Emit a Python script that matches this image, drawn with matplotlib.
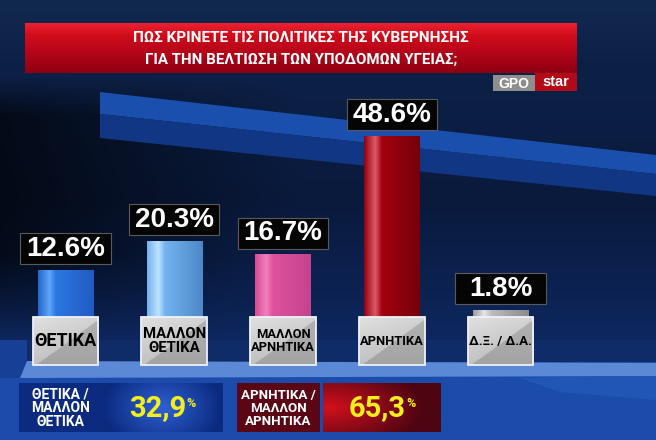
import numpy as np
import matplotlib
matplotlib.use('Agg')
import matplotlib.pyplot as plt
from matplotlib import font_manager
from matplotlib.colors import LinearSegmentedColormap, to_rgb
from matplotlib.patches import Rectangle, Polygon

# datos del gráfico
categorias = ['ΘΕΤΙΚΑ', 'ΜΑΛΛΟΝ\nΘΕΤΙΚΑ', 'ΜΑΛΛΟΝ\nΑΡΝΗΤΙΚΑ', 'ΑΡΝΗΤΙΚΑ', 'Δ.Ξ. / Δ.Α.']
valores = [12.6, 20.3, 16.7, 48.6, 1.8]
titulo = ['ΠΩΣ ΚΡΙΝΕΤΕ ΤΙΣ ΠΟΛΙΤΙΚΕΣ ΤΗΣ ΚΥΒΕΡΝΗΣΗΣ',
          'ΓΙΑ ΤΗΝ ΒΕΛΤΙΩΣΗ ΤΩΝ ΥΠΟΔΟΜΩΝ ΥΓΕΙΑΣ;']
resumen_etiquetas = ['ΘΕΤΙΚΑ /\nΜΑΛΛΟΝ\nΘΕΤΙΚΑ', 'ΑΡΝΗΤΙΚΑ /\nΜΑΛΛΟΝ\nΑΡΝΗΤΙΚΑ']
resumen_valores = [32.9, 65.3]

# colores de cada barra: borde izq, brillo, centro, borde der
colores_barras = [
    ['#2466cc', '#5ea6fa', '#2c78e2', '#1f5cc2'],
    ['#72b2ec', '#bfe2ff', '#74b4ee', '#4c88c9'],
    ['#d84a96', '#f27fbe', '#de529d', '#c4438c'],
    ['#920010', '#dc5a6a', '#a3000f', '#74000a'],
    ['#9a9a9a', '#e6e6e6', '#bdbdbd', '#8a8a8a'],
]

nombres = {f.name for f in font_manager.fontManager.ttflist}
if 'Liberation Sans Narrow' in nombres:
    ESTRECHA = 'Liberation Sans Narrow'
elif 'Roboto' in nombres:
    ESTRECHA = 'Roboto'
else:
    ESTRECHA = 'DejaVu Sans'
NORMAL = 'Liberation Sans' if 'Liberation Sans' in nombres else 'DejaVu Sans'

W_PX, H_PX = 656, 440
fig = plt.figure(figsize=(W_PX / 100, H_PX / 100), dpi=100)
fig.patch.set_facecolor('#0a1a3c')


def ajustar(t, ancho):
    r = fig.canvas.get_renderer()
    w = t.get_window_extent(r).width
    if w > ancho:
        t.set_fontsize(t.get_fontsize() * ancho / w)


# ---- fondo (coordenadas en píxeles) ----
bg = fig.add_axes([0, 0, 1, 1])
bg.set_xlim(0, W_PX)
bg.set_ylim(H_PX, 0)
bg.axis('off')

yy, xx = np.mgrid[0:H_PX, 0:W_PX]
paradas_y = [0, 60, 200, 300, 362]
paradas_c = [to_rgb(c) for c in ['#12294f', '#0d2148', '#0a1a3d', '#0c2354', '#0f2b68']]
img = np.zeros((H_PX, W_PX, 3))
for k in range(3):
    img[..., k] = np.interp(yy, paradas_y, [c[k] for c in paradas_c])
oscuro = np.clip(1 - xx / 300, 0, 1) * np.clip((yy - 75) / 40, 0, 1) * np.clip((345 - yy) / 90, 0, 1)
img *= (1 - 0.65 * oscuro)[..., None]
bg.imshow(img, extent=(0, W_PX, H_PX, 0), aspect='auto', zorder=0)

# franja azul diagonal
bg.add_patch(Polygon([(100, 92), (656, 155), (656, 174), (100, 114)], closed=True,
                     facecolor='#1b4fae', edgecolor='none', zorder=1))
bg.add_patch(Polygon([(100, 114), (656, 174), (656, 196), (100, 138)], closed=True,
                     facecolor='#113784', edgecolor='none', zorder=1))

# suelo
bg.add_patch(Rectangle((0, 340), W_PX, 100, facecolor='#1b4cab', edgecolor='none', zorder=1))
bg.add_patch(Polygon([(27, 340), (656, 340), (656, 362), (27, 362)], closed=True,
                     facecolor='#0f2b68', edgecolor='none', zorder=1))
bg.add_patch(Polygon([(0, 340), (27, 340), (27, 378), (0, 378)], closed=True,
                     facecolor='#173f95', edgecolor='none', zorder=1))
bg.add_patch(Polygon([(27, 361), (656, 363), (656, 376), (20, 378)], closed=True,
                     facecolor='#5b89d5', edgecolor='none', zorder=1))
bg.add_patch(Polygon([(520, 378), (656, 376), (656, 400), (560, 392)], closed=True,
                     facecolor='#2a61c2', edgecolor='none', alpha=0.5, zorder=1))

# banner del título
franja = np.array([to_rgb(c) for c in ['#ec2030', '#d00c1a', '#b8061a', '#8e0012']])
grad_t = np.zeros((50, 1, 3))
for k in range(3):
    grad_t[:, 0, k] = np.interp(np.linspace(0, 1, 50), [0, 0.25, 0.55, 1], franja[:, k])
bg.imshow(grad_t, extent=(25, 577, 73, 23), aspect='auto', zorder=3)
bg.add_patch(Rectangle((535, 73), 42, 18, facecolor='#b20a16', edgecolor='none', zorder=3))
bg.add_patch(Rectangle((493, 75), 42, 16, facecolor='#8e8e8e', edgecolor='none', zorder=3))
bg.text(514, 83.5, 'GPO', color='white', fontsize=10, fontweight='bold', family=NORMAL,
        ha='center', va='center', zorder=4)
bg.text(556, 82.5, 'star', color='white', fontsize=10.5, fontweight='bold', family=NORMAL,
        ha='center', va='center', zorder=4)
for linea, yc, ancho in zip(titulo, [38, 60], [335, 312]):
    t = bg.text(301, yc, linea, color='white', fontsize=14, fontweight='bold',
                family=ESTRECHA, fontstretch='condensed', ha='center', va='center', zorder=4)
    ajustar(t, ancho)

# ---- barras (coordenadas de datos) ----
px_unidad = 108.75
izq = 65.5 - 0.5 * px_unidad
px_pct = 3.72
ax = fig.add_axes([izq / W_PX, (H_PX - 365) / H_PX, 5 * px_unidad / W_PX, 275 / H_PX])
ax.patch.set_alpha(0)
ax.axis('off')

x = np.arange(len(valores))
barras = ax.bar(x, valores, width=0.506, color='none', edgecolor='none', zorder=2)
grad = np.linspace(0, 1, 128)[None, :]
for b, cols in zip(barras, colores_barras):
    cm = LinearSegmentedColormap.from_list('c', list(zip([0, 0.2, 0.32, 1], cols)))
    ax.imshow(grad, cmap=cm, aspect='auto', zorder=2,
              extent=(b.get_x(), b.get_x() + b.get_width(), 0, b.get_height()))

alto_caja = 31 / px_pct
hueco = 6 / px_pct
for xc, v in zip(x, valores):
    ax.add_patch(Rectangle((xc - 0.415, v + hueco), 0.83, alto_caja, facecolor='#050505',
                           edgecolor='#5a5a5a', lw=0.8, zorder=3, clip_on=False))
    ax.text(xc, v + hueco + alto_caja / 2, f'{v:.1f}%', color='white', fontsize=20,
            fontweight='bold', family=NORMAL, ha='center', va='center', zorder=4, clip_on=False)

# cajas grises con las categorías
alto_et = 48 / px_pct
uu, vv = np.meshgrid(np.linspace(0, 1, 80), np.linspace(0, 1, 60))
gris = np.where(uu + vv > 1.05, 0.64 + 0.06 * (1 - vv), 0.88 - 0.12 * vv - 0.05 * uu)
gris_img = np.dstack([gris, gris, gris])
for xc, etiqueta in zip(x, categorias):
    ax.imshow(gris_img, aspect='auto', zorder=3,
              extent=(xc - 0.303, xc + 0.303, -alto_et, 0))
    ax.add_patch(Rectangle((xc - 0.303, -alto_et), 0.606, alto_et, facecolor='none',
                           edgecolor='#eef2f8', lw=1.3, zorder=4, clip_on=False))
    t = ax.text(xc, -alto_et / 2, etiqueta, color='black', fontsize=13, fontweight='bold',
                family=ESTRECHA, fontstretch='condensed', ha='center', va='center',
                linespacing=1.0, zorder=5, clip_on=False)
    ajustar(t, 63)

ax.set_xlim(-0.5, len(valores) - 0.5)
ax.set_ylim(-alto_et, 275 / px_pct - alto_et)

# ---- resumen inferior ----
cajas_et = [(19, 102), (237, 320)]
cajas_val = [(102, 223), (323, 441)]
y0, y1 = 383, 432
tonos = [('#0b2a7e', '#2e5fd2'), ('#4e0412', '#d0101c')]
fondo_et = ['#0c2b80', '#5a0614']
uu2, vv2 = np.meshgrid(np.linspace(-1, 1, 120), np.linspace(-1, 1, 50))
radial = [np.clip(1 - np.sqrt(uu2 ** 2 + 0.3 * vv2 ** 2), 0, 1),
          np.clip(1 - np.sqrt(((uu2 + 0.9) / 1.6) ** 2 + 0.3 * vv2 ** 2), 0, 1)]
for (a, b), (c, d), etq, val, tono, fe, r in zip(cajas_et, cajas_val, resumen_etiquetas,
                                                  resumen_valores, tonos, fondo_et, radial):
    bg.add_patch(Rectangle((a, y0), b - a, y1 - y0, facecolor=fe, edgecolor='none', zorder=3))
    t = bg.text((a + b) / 2, (y0 + y1) / 2 + 1, etq, color='white', fontsize=10,
                fontweight='bold', family=ESTRECHA, fontstretch='condensed',
                ha='center', va='center', linespacing=1.0, zorder=4)
    ajustar(t, 74)
    bg.imshow(r, cmap=LinearSegmentedColormap.from_list('r', list(tono)),
              extent=(c, d, y1, y0), aspect='auto', zorder=3)
    num = bg.text((c + d) / 2 - 5, (y0 + y1) / 2 + 1, f'{val:.1f}'.replace('.', ','),
                  color='#f4ef1c', fontsize=21, fontweight='bold', family=ESTRECHA,
                  fontstretch='condensed', ha='center', va='center', zorder=4)
    ajustar(num, 62)
    ext = num.get_window_extent(fig.canvas.get_renderer())
    xd = bg.transData.inverted().transform((ext.x1, ext.y1))
    bg.text(xd[0] + 0.5, xd[1] + 3, '%', color='#f4ef1c', fontsize=9, fontweight='bold',
            family=ESTRECHA, fontstretch='condensed', ha='left', va='top', zorder=4)

fig.savefig('out.png', dpi=100)
